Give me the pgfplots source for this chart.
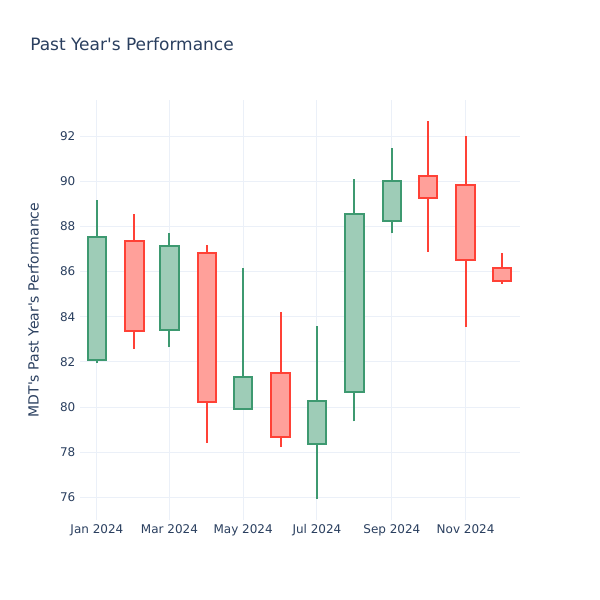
\documentclass[border=0pt]{standalone}
\usepackage{pgfplots}
\pgfplotsset{compat=1.18}
\usepackage{fontspec}
\setmainfont{DejaVu Sans}

\definecolor{txt}{HTML}{2A3F5F}
\definecolor{gridc}{HTML}{EBF0F8}
\definecolor{incline}{HTML}{3D9970}
\definecolor{incfill}{HTML}{9ECCB7}
\definecolor{decline}{HTML}{FF4136}
\definecolor{decfill}{HTML}{FFA09A}

\begin{document}
\begin{tikzpicture}
\path[use as bounding box, fill=white] (0,0) rectangle (450pt,450pt);
\node[anchor=west, inner sep=0pt, text=txt, font=\fontsize{12.75}{14}\selectfont] at (22.5pt,417pt) {Past Year\textquotesingle s Performance};
\begin{axis}[
    at={(60pt,60pt)}, anchor=south west,
    scale only axis, width=330pt, height=315pt,
    xmin=-14, xmax=350, ymin=75.0, ymax=93.6,
    axis line style={draw=none}, tick style={draw=none},
    grid=major, grid style={line width=0.75pt, gridc},
    xtick={0,60,121,182,244,305},
    xticklabels={Jan 2024,Mar 2024,May 2024,Jul 2024,Sep 2024,Nov 2024},
    ytick={76,78,80,82,84,86,88,90,92},
    /pgf/number format/assume math mode=true,
    ticklabel style={font=\fontsize{9}{10}\selectfont, text=txt},
    every axis y label/.style={at={(axis description cs:-0.106,0.5)}, rotate=90, anchor=center,
        font=\fontsize{10.5}{12}\selectfont, text=txt},
    ylabel={MDT\textquotesingle s Past Year\textquotesingle s Performance},
    wi/.style={draw=incline, line width=1.5pt, mark=none},
    wd/.style={draw=decline, line width=1.5pt, mark=none},
    bi/.style={draw=incline, fill=incfill, line width=1.5pt, mark=none, line join=miter},
    bd/.style={draw=decline, fill=decfill, line width=1.5pt, mark=none, line join=miter},
]
% Jan (up): open 82.10, high 89.17, low 81.95, close 87.54
\addplot[wi] coordinates {(0,81.95) (0,89.17)};
\addplot[bi] coordinates {(-7.6,82.10) (7.6,82.10) (7.6,87.54) (-7.6,87.54)} -- cycle;
% Feb (down): open 87.36, high 88.53, low 82.59, close 83.36
\addplot[wd] coordinates {(31,82.59) (31,88.53)};
\addplot[bd] coordinates {(23.4,83.36) (38.6,83.36) (38.6,87.36) (23.4,87.36)} -- cycle;
% Mar (up): open 83.40, high 87.69, low 82.64, close 87.14
\addplot[wi] coordinates {(60,82.64) (60,87.69)};
\addplot[bi] coordinates {(52.4,83.40) (67.6,83.40) (67.6,87.14) (52.4,87.14)} -- cycle;
% Apr (down): open 86.83, high 87.16, low 78.41, close 80.21
\addplot[wd] coordinates {(91,78.41) (91,87.16)};
\addplot[bd] coordinates {(83.4,80.21) (98.6,80.21) (98.6,86.83) (83.4,86.83)} -- cycle;
% May (up): open 79.93, high 86.14, low 79.93, close 81.33
\addplot[wi] coordinates {(121,79.93) (121,86.14)};
\addplot[bi] coordinates {(113.4,79.93) (128.6,79.93) (128.6,81.33) (113.4,81.33)} -- cycle;
% Jun (down): open 81.50, high 84.21, low 78.23, close 78.67
\addplot[wd] coordinates {(152,78.23) (152,84.21)};
\addplot[bd] coordinates {(144.4,78.67) (159.6,78.67) (159.6,81.50) (144.4,81.50)} -- cycle;
% Jul (up): open 78.35, high 83.59, low 75.94, close 80.27
\addplot[wi] coordinates {(182,75.94) (182,83.59)};
\addplot[bi] coordinates {(174.4,78.35) (189.6,78.35) (189.6,80.27) (174.4,80.27)} -- cycle;
% Aug (up): open 80.65, high 90.10, low 79.37, close 88.56
\addplot[wi] coordinates {(213,79.37) (213,90.10)};
\addplot[bi] coordinates {(205.4,80.65) (220.6,80.65) (220.6,88.56) (205.4,88.56)} -- cycle;
% Sep (up): open 88.25, high 91.46, low 87.69, close 90.02
\addplot[wi] coordinates {(244,87.69) (244,91.46)};
\addplot[bi] coordinates {(236.4,88.25) (251.6,88.25) (251.6,90.02) (236.4,90.02)} -- cycle;
% Oct (down): open 90.23, high 92.67, low 86.89, close 89.27
\addplot[wd] coordinates {(274,86.89) (274,92.67)};
\addplot[bd] coordinates {(266.4,89.27) (281.6,89.27) (281.6,90.23) (266.4,90.23)} -- cycle;
% Nov (down): open 89.82, high 92.00, low 83.55, close 86.52
\addplot[wd] coordinates {(305,83.55) (305,92.00)};
\addplot[bd] coordinates {(297.4,86.52) (312.6,86.52) (312.6,89.82) (297.4,89.82)} -- cycle;
% Dec (down): open 86.14, high 86.83, low 85.47, close 85.60
\addplot[wd] coordinates {(335,85.47) (335,86.83)};
\addplot[bd] coordinates {(327.4,85.60) (342.6,85.60) (342.6,86.14) (327.4,86.14)} -- cycle;
\end{axis}
\end{tikzpicture}
\end{document}
